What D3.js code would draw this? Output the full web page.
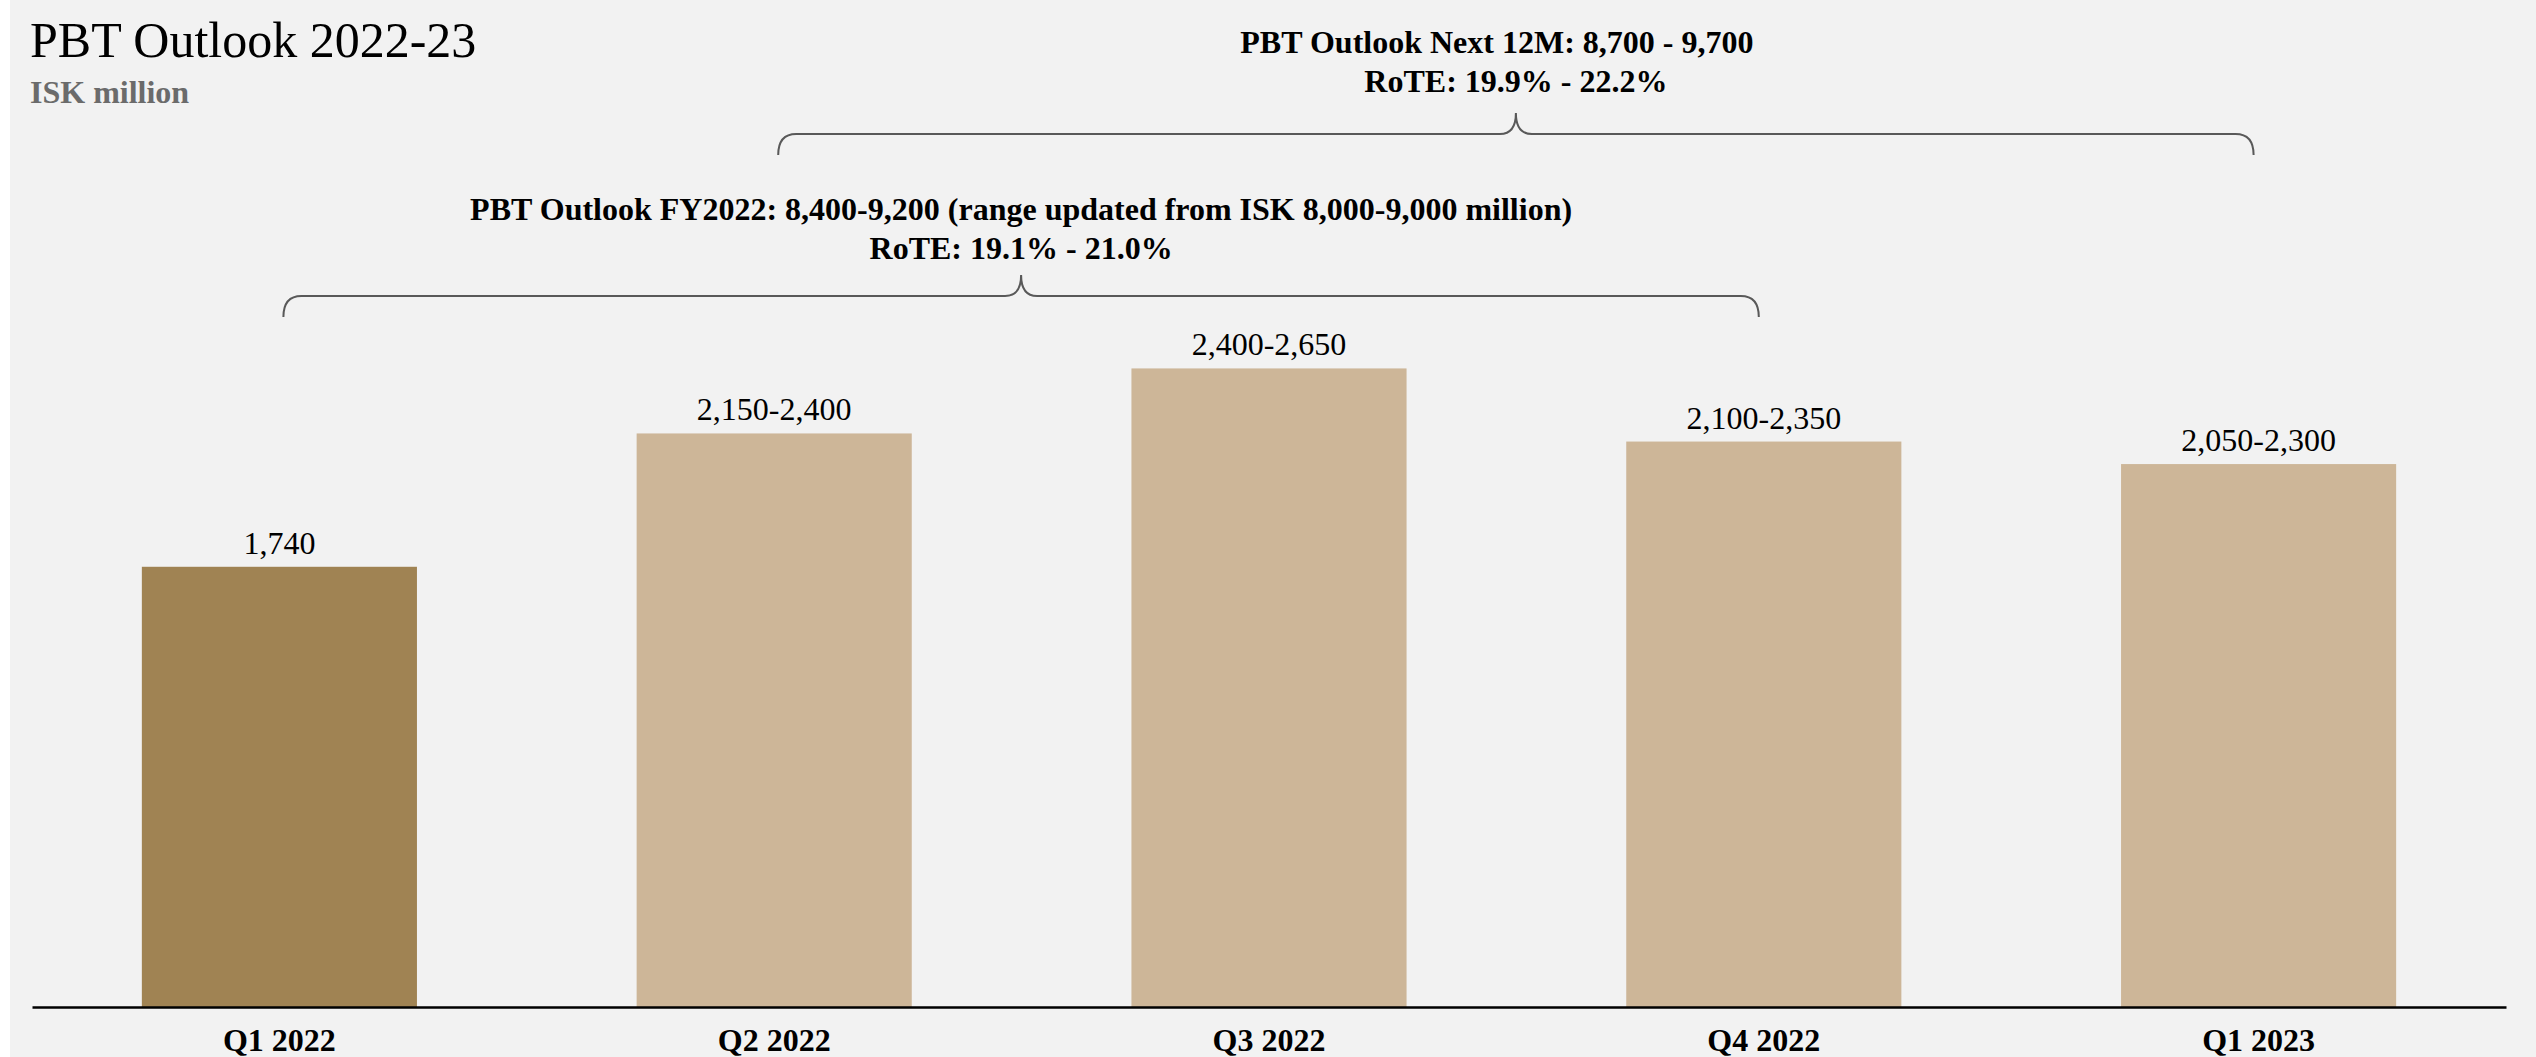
<!DOCTYPE html>
<html>
<head>
<meta charset="utf-8">
<script src="https://cdn.jsdelivr.net/npm/d3@7"></script>
<style>
  html, body { margin: 0; padding: 0; background: #ffffff; }
  svg { display: block; font-family: "Liberation Serif", "Times New Roman", serif; }
</style>
</head>
<body>
<svg id="chart"></svg>
<script>
// quarters and estimated bar heights (ISK million)
const quarters = ['Q1 2022', 'Q2 2022', 'Q3 2022', 'Q4 2022', 'Q1 2023'];
const barValues = [1740, 2267, 2524, 2235, 2146];
const barLabels = ['1,740', '2,150-2,400', '2,400-2,650', '2,100-2,350', '2,050-2,300'];
const isActual = [true, false, false, false, false];

// outlook brackets: span from one quarter to another
const bracketFrom = ['Q1 2022', 'Q2 2022'];
const bracketTo = ['Q4 2022', 'Q1 2023'];
const bracketLines = [
  ['PBT Outlook FY2022: 8,400-9,200 (range updated from ISK 8,000-9,000 million)', 'RoTE: 19.1% - 21.0%'],
  ['PBT Outlook Next 12M: 8,700 - 9,700', 'RoTE: 19.9% - 22.2%']
];

const W = 2536, H = 1057;
const svg = d3.select('#chart').attr('width', W).attr('height', H);

// grey panel
svg.append('rect')
  .attr('x', 10).attr('y', 0)
  .attr('width', W - 10).attr('height', H)
  .attr('fill', '#f2f2f2');

const x = d3.scaleBand()
  .domain(quarters)
  .range([32, 2506])
  .paddingInner(0.444)
  .paddingOuter(0.222);

const y = d3.scaleLinear()
  .domain([0, 3000])
  .range([1007, 248]);

// title
svg.append('text')
  .attr('x', 30).attr('y', 57)
  .attr('font-size', 50)
  .attr('fill', '#000')
  .text('PBT Outlook 2022-23');

svg.append('text')
  .attr('x', 30).attr('y', 103)
  .attr('font-size', 32)
  .attr('font-weight', 'bold')
  .attr('fill', '#6b6b6b')
  .text('ISK million');

// bars
const bars = quarters.map((q, i) => ({ q, v: barValues[i], label: barLabels[i], actual: isActual[i] }));

svg.append('g').selectAll('rect')
  .data(bars)
  .join('rect')
  .attr('x', d => x(d.q))
  .attr('y', d => y(d.v))
  .attr('width', x.bandwidth())
  .attr('height', d => y(0) - y(d.v))
  .attr('fill', d => d.actual ? '#a08353' : '#cdb698');

// value labels
svg.append('g').selectAll('text')
  .data(bars)
  .join('text')
  .attr('x', d => x(d.q) + x.bandwidth() / 2)
  .attr('y', d => y(d.v) - 13)
  .attr('text-anchor', 'middle')
  .attr('font-size', 32)
  .attr('fill', '#000')
  .text(d => d.label);

// x axis
const xAxis = svg.append('g')
  .attr('transform', `translate(0,${y(0)})`)
  .call(d3.axisBottom(x).tickSize(0).tickPadding(21));
xAxis.select('.domain')
  .attr('stroke', '#000')
  .attr('stroke-width', 2.5);
xAxis.selectAll('text')
  .attr('font-family', '"Liberation Serif", serif')
  .attr('font-size', 32)
  .attr('font-weight', 'bold')
  .attr('fill', '#000')
  .attr('dy', '0.71em');

// curly brackets with their labels
const bracketY = [296, 134];       // horizontal line of each bracket
const textY = [220, 53];           // baseline of first text line
const lineShift = [[0, 0], [-19, 0]];

function bracePath(x0, x1, yh) {
  const xm = (x0 + x1) / 2;
  const drop = 21, peak = 21, r = 18, pr = 16;
  return `M${x0},${yh + drop}` +
    `Q${x0},${yh} ${x0 + r},${yh}` +
    `L${xm - pr},${yh}` +
    `Q${xm},${yh} ${xm},${yh - peak}` +
    `Q${xm},${yh} ${xm + pr},${yh}` +
    `L${x1 - r},${yh}` +
    `Q${x1},${yh} ${x1},${yh + drop}`;
}

bracketFrom.forEach((from, i) => {
  const x0 = x(from) + x.bandwidth() / 2 + 4;
  const x1 = x(bracketTo[i]) + x.bandwidth() / 2 - 5;
  const g = svg.append('g');
  g.append('path')
    .attr('d', bracePath(x0, x1, bracketY[i]))
    .attr('fill', 'none')
    .attr('stroke', '#595959')
    .attr('stroke-width', 2);

  g.selectAll('text')
    .data(bracketLines[i])
    .join('text')
    .attr('x', (d, j) => (x0 + x1) / 2 + lineShift[i][j])
    .attr('y', (d, j) => textY[i] + j * 39)
    .attr('text-anchor', 'middle')
    .attr('font-size', 32)
    .attr('font-weight', 'bold')
    .attr('fill', '#000')
    .text(d => d);
});
</script>
</body>
</html>
